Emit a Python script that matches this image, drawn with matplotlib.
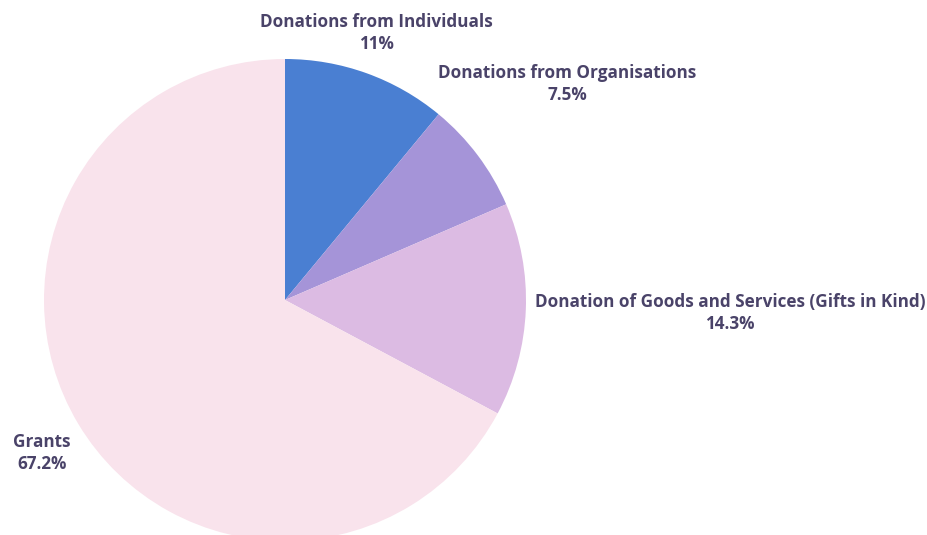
import matplotlib
matplotlib.use('Agg')
import matplotlib.pyplot as plt

# income sources, share of total (%)
sources = ["Donations from Individuals", "Donations from Organisations",
           "Donation of Goods and Services (Gifts in Kind)", "Grants"]
shares = [11, 7.5, 14.3, 67.2]
colors = ["#4a7fd2", "#a594d8", "#dcbbe3", "#f9e3ec"]

text_color = "#4a4369"

fig = plt.figure(figsize=(9.27, 5.35), dpi=100)
ax = fig.add_axes([0, 0, 1, 1])

center = (285, -300)
radius = 241
ax.pie(shares, colors=colors, startangle=90, counterclock=False,
       center=center, radius=radius, frame=True,
       wedgeprops=dict(linewidth=0))
ax.set_xlim(0, 927)
ax.set_ylim(-535, 0)
ax.set_aspect('equal')
ax.axis('off')

# label anchors (x, y, alignment)
label_pos = [(376, -33, 'center'), (567, -84, 'center'),
             (730, -313, 'center'), (13, -453, 'left')]
for name, val, (x, y, ha) in zip(sources, shares, label_pos):
    ax.text(x, y, f"{name}\n{val:g}%", ha=ha, va='center',
            fontsize=12.3, fontweight='bold', family='Open Sans',
            color=text_color, linespacing=1.35, multialignment='center')

fig.savefig("out.png", dpi=100, facecolor='white')
